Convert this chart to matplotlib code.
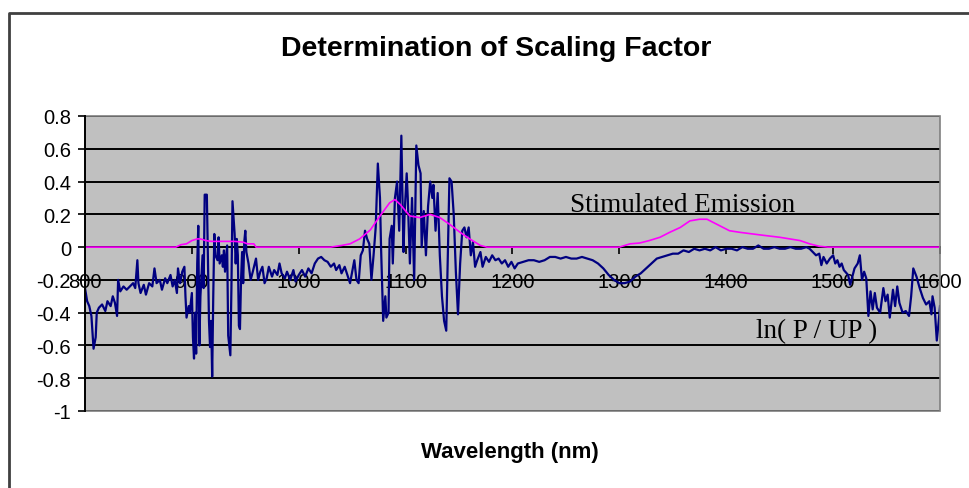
import matplotlib
matplotlib.use("Agg")
import matplotlib.pyplot as plt
from matplotlib.patches import Rectangle
from matplotlib.lines import Line2D

# ln(P/UP) measured ratio
ratio_nm = [800, 802, 804, 806, 808, 810, 811, 813, 816, 819, 821, 824, 826, 828, 830, 831, 833, 836, 839, 842,
            845, 847, 849, 850, 852, 855, 857, 860, 863, 865, 867, 870, 872, 875, 877, 880, 882, 884, 886, 887,
            889, 891, 893, 894, 895, 897, 898, 900, 901, 902, 903, 904, 905, 906, 907, 908, 910, 911, 912, 914,
            915, 916, 917, 918, 919, 920, 921, 922, 924, 925, 926, 928, 929, 930, 931, 933, 934, 936, 937, 938,
            940, 941, 942, 943, 944, 945, 946, 947, 948, 949, 950, 951, 953, 955, 957, 960, 962, 964, 966, 968,
            970, 972, 975, 977, 980, 982, 984, 987, 989, 992, 995, 997, 1000, 1003, 1006, 1009, 1012, 1015, 1018, 1021,
            1024, 1027, 1030, 1033, 1035, 1038, 1040, 1043, 1046, 1048, 1050, 1052, 1054, 1056, 1058, 1060, 1062, 1064, 1066, 1068,
            1070, 1072, 1074, 1076, 1077, 1079, 1081, 1082, 1084, 1085, 1087, 1088, 1090, 1092, 1094, 1096, 1098, 1099, 1101, 1102,
            1104, 1106, 1108, 1110, 1112, 1114, 1115, 1117, 1119, 1121, 1123, 1125, 1126, 1128, 1130, 1132, 1134, 1136, 1138, 1139,
            1141, 1143, 1145, 1147, 1149, 1151, 1153, 1155, 1157, 1159, 1161, 1163, 1165, 1167, 1170, 1172, 1175, 1178, 1181, 1184,
            1187, 1190, 1193, 1196, 1199, 1202, 1205, 1210, 1215, 1220, 1225, 1230, 1235, 1240, 1245, 1250, 1255, 1260, 1265, 1270,
            1275, 1280, 1285, 1290, 1295, 1300, 1305, 1310, 1315, 1320, 1325, 1330, 1335, 1340, 1345, 1350, 1355, 1360, 1365, 1370,
            1375, 1380, 1385, 1390, 1395, 1400, 1405, 1410, 1415, 1420, 1425, 1430, 1435, 1440, 1445, 1450, 1455, 1460, 1465, 1470,
            1475, 1478, 1481, 1484, 1487, 1489, 1491, 1494, 1497, 1500, 1502, 1504, 1506, 1508, 1510, 1514, 1516, 1518, 1520, 1523,
            1525, 1527, 1529, 1531, 1533, 1535, 1537, 1539, 1541, 1544, 1547, 1549, 1551, 1553, 1556, 1558, 1560, 1562, 1565, 1568,
            1571, 1573, 1575, 1578, 1581, 1584, 1587, 1590, 1592, 1593, 1595, 1597, 1599, 1600]
ratio_val = [-0.25, -0.33, -0.36, -0.42, -0.62, -0.55, -0.40, -0.37, -0.35, -0.39, -0.33, -0.36, -0.30, -0.34, -0.42, -0.20, -0.27, -0.24, -0.26, -0.24,
             -0.22, -0.25, -0.08, -0.22, -0.28, -0.23, -0.29, -0.22, -0.24, -0.13, -0.22, -0.20, -0.26, -0.19, -0.22, -0.17, -0.24, -0.20, -0.28, -0.13,
             -0.22, -0.15, -0.12, -0.30, -0.43, -0.36, -0.40, -0.28, -0.55, -0.68, -0.40, -0.65, -0.10, 0.13, -0.60, -0.30, -0.05, -0.25, 0.32, 0.32,
             -0.05, -0.45, -0.61, -0.45, -0.79, -0.30, 0.08, -0.05, -0.08, 0.06, -0.10, -0.05, -0.12, -0.02, -0.15, 0.01, -0.54, -0.66, -0.25, 0.28,
             0.08, -0.10, 0.05, -0.05, -0.48, -0.50, -0.20, -0.03, -0.22, 0.03, 0.10, -0.03, -0.10, -0.20, -0.15, -0.07, -0.20, -0.15, -0.12, -0.22,
             -0.19, -0.12, -0.18, -0.14, -0.17, -0.10, -0.16, -0.19, -0.15, -0.20, -0.14, -0.21, -0.17, -0.14, -0.18, -0.13, -0.16, -0.10, -0.07, -0.06,
             -0.08, -0.09, -0.12, -0.10, -0.14, -0.11, -0.16, -0.12, -0.18, -0.22, -0.15, -0.08, -0.20, -0.22, -0.05, -0.02, 0.10, 0.05, 0.02, -0.20,
             -0.05, 0.12, 0.51, 0.30, 0.00, -0.45, -0.30, -0.43, -0.40, 0.05, 0.13, -0.10, 0.30, 0.40, 0.10, 0.68, -0.03, 0.20, 0.45, 0.30,
             -0.10, 0.30, -0.20, 0.62, 0.50, 0.45, 0.00, 0.22, -0.05, 0.25, 0.40, 0.30, 0.38, 0.10, 0.33, -0.05, -0.30, -0.45, -0.51, -0.20,
             0.42, 0.40, 0.20, -0.15, -0.41, -0.10, 0.10, 0.12, 0.06, 0.12, -0.05, 0.03, -0.12, -0.08, -0.03, -0.12, -0.06, -0.09, -0.05, -0.08,
             -0.07, -0.10, -0.08, -0.12, -0.09, -0.13, -0.10, -0.09, -0.08, -0.08, -0.09, -0.08, -0.06, -0.06, -0.07, -0.06, -0.07, -0.07, -0.06, -0.07,
             -0.08, -0.10, -0.13, -0.17, -0.20, -0.22, -0.22, -0.21, -0.18, -0.16, -0.13, -0.10, -0.07, -0.06, -0.05, -0.04, -0.04, -0.02, -0.03, -0.01,
             -0.02, -0.01, -0.02, 0.00, -0.02, -0.01, -0.01, -0.02, 0.00, -0.01, -0.01, 0.01, -0.01, -0.01, 0.00, -0.01, -0.01, 0.00, -0.01, -0.01,
             0.00, -0.01, -0.03, -0.05, -0.04, -0.11, -0.06, -0.10, -0.07, -0.05, -0.10, -0.08, -0.12, -0.10, -0.14, -0.17, -0.23, -0.18, -0.13, -0.10,
             -0.05, -0.20, -0.15, -0.19, -0.42, -0.27, -0.38, -0.28, -0.37, -0.40, -0.25, -0.33, -0.29, -0.43, -0.26, -0.36, -0.24, -0.34, -0.40, -0.39,
             -0.42, -0.30, -0.13, -0.18, -0.25, -0.31, -0.35, -0.33, -0.41, -0.30, -0.37, -0.57, -0.44, -0.36]

# Stimulated emission profile
emis_nm = [800, 885, 890, 895, 900, 905, 908, 913, 918, 940, 948, 952, 958, 960, 1030, 1040, 1048, 1057, 1067, 1076,
           1085, 1090, 1095, 1100, 1104, 1113, 1118, 1123, 1132, 1141, 1151, 1160, 1170, 1176, 1300, 1310, 1319, 1328, 1338, 1347,
           1357, 1366, 1375, 1382, 1385, 1394, 1403, 1413, 1431, 1450, 1469, 1478, 1487, 1495, 1600]
emis_val = [0.0, 0.0, 0.015, 0.02, 0.04, 0.05, 0.05, 0.04, 0.035, 0.035, 0.03, 0.02, 0.02, 0.0, 0.0, 0.01, 0.02, 0.05, 0.105, 0.19,
            0.27, 0.29, 0.26, 0.22, 0.19, 0.18, 0.19, 0.20, 0.18, 0.14, 0.09, 0.05, 0.01, 0.0, 0.0, 0.02, 0.025, 0.04, 0.06, 0.09,
            0.12, 0.16, 0.17, 0.17, 0.16, 0.13, 0.10, 0.09, 0.075, 0.06, 0.04, 0.02, 0.005, 0.0, 0.0]

x_ticks = [800, 900, 1000, 1100, 1200, 1300, 1400, 1500, 1600]
y_ticks = [-1, -0.8, -0.6, -0.4, -0.2, 0, 0.2, 0.4, 0.6, 0.8]
y_tick_labels = ["-1", "-0.8", "-0.6", "-0.4", "-0.2", "0", "0.2", "0.4", "0.6", "0.8"]

sans = ["Liberation Sans", "DejaVu Sans"]
serif = ["Liberation Serif", "DejaVu Serif"]

fig = plt.figure(figsize=(9.70, 4.89), dpi=100)
fig.patch.set_facecolor("white")
ax = fig.add_axes([85 / 970, 1 - 412 / 489, 855 / 970, 295 / 489])
ax.set_facecolor("#C0C0C0")

ax.set_xlim(800, 1600)
ax.set_ylim(-1, 0.8)

for y in y_ticks:
    ax.axhline(y, color="black", lw=1.4, zorder=1)

ax.plot(ratio_nm, ratio_val, color="#000080", lw=1.6, zorder=3)
ax.plot(emis_nm, emis_val, color="#FF00FF", lw=1.2, zorder=4)

# plot area frame
ax.add_patch(Rectangle((0, 0), 1, 1, transform=ax.transAxes, fill=False,
                       edgecolor="#808080", lw=1.2, zorder=5, clip_on=False))

for s in ("top", "right"):
    ax.spines[s].set_visible(False)
ax.spines["left"].set_color("black")
ax.spines["left"].set_linewidth(1.4)
ax.spines["bottom"].set_position(("data", 0))
ax.spines["bottom"].set_color("black")
ax.spines["bottom"].set_linewidth(1.4)
ax.spines["left"].set_zorder(6)
ax.spines["bottom"].set_zorder(2)

ax.set_xticks(x_ticks)
ax.set_xticklabels([str(v) for v in x_ticks], fontfamily=sans, fontsize=14.5)
ax.set_yticks(y_ticks)
ax.set_yticklabels(y_tick_labels, fontfamily=sans, fontsize=14.5)
ax.tick_params(axis="x", direction="out", length=5, width=1.2, pad=13, color="black")
ax.tick_params(axis="y", direction="out", length=5, width=1.2, pad=5, color="black")

ax.text(1254, 0.26, "Stimulated Emission", fontfamily=serif, fontsize=19.5,
        ha="left", va="center", zorder=7)
ax.text(1428, -0.51, "ln( P / UP )", fontfamily=serif, fontsize=19.5,
        ha="left", va="center", zorder=7)

fig.text(0.512, 1 - 49 / 489, "Determination of Scaling Factor", fontfamily=sans,
         fontweight="bold", fontsize=20.5, ha="center", va="center")
fig.text(0.526, 1 - 453 / 489, "Wavelength (nm)", fontfamily=sans,
         fontweight="bold", fontsize=16, ha="center", va="center")

# outer chart border
fig.add_artist(Line2D([9.5 / 970, 9.5 / 970, 1.0], [0.0, 1 - 13.5 / 489, 1 - 13.5 / 489],
                      transform=fig.transFigure, color="#404040", lw=2))

fig.savefig("out.png", dpi=100)
